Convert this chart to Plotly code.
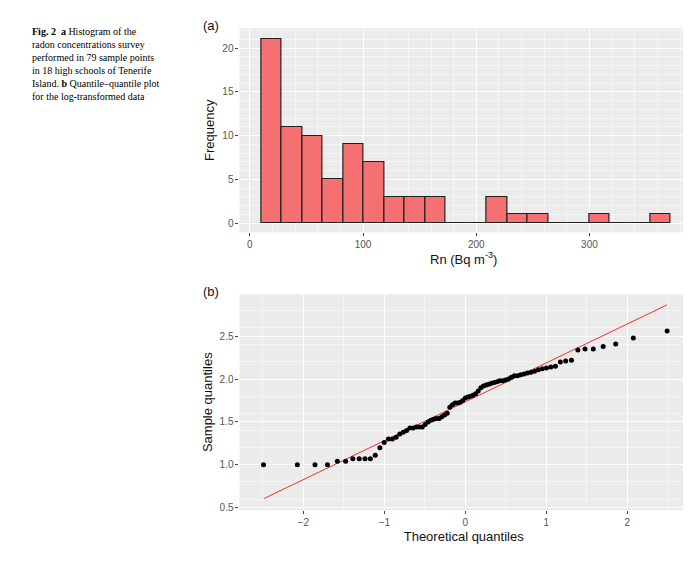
import plotly.graph_objects as go
from statistics import NormalDist

# Histogram data (binned)
bin_start = 10.0
bin_width = 18.1
counts = [21, 11, 10, 5, 9, 7, 3, 3, 3, 0, 0, 3, 1, 1, 0, 0, 1, 0, 0, 1]

# QQ sample quantiles (log10 Rn), sorted
sample_q = [1.0, 1.0, 1.0, 1.0, 1.04, 1.04, 1.07, 1.07, 1.07, 1.07, 1.11, 1.20, 1.26,
            1.30, 1.30, 1.32, 1.36, 1.38, 1.40, 1.43, 1.43, 1.44, 1.44, 1.44, 1.47,
            1.50, 1.52, 1.53, 1.54, 1.54, 1.56, 1.58, 1.60, 1.67, 1.70, 1.72, 1.72,
            1.73, 1.75, 1.78, 1.79, 1.80, 1.81, 1.83, 1.86, 1.90, 1.92, 1.93, 1.94,
            1.95, 1.96, 1.97, 1.98, 1.98, 1.99, 2.0, 2.02, 2.04, 2.04, 2.05, 2.06,
            2.07, 2.08, 2.09, 2.11, 2.12, 2.13, 2.14, 2.15, 2.20, 2.21, 2.22, 2.34,
            2.35, 2.35, 2.38, 2.41, 2.48, 2.56]
line_x = [-2.49, 2.49]
line_y = [0.605, 2.865]

n = len(sample_q)
nd = NormalDist()
theo_q = [nd.inv_cdf((i + 0.5) / n) for i in range(n)]
centers = [bin_start + bin_width * (i + 0.5) for i in range(len(counts))]

fig = go.Figure()
fig.add_trace(go.Bar(x=centers, y=counts, width=bin_width, marker=dict(color="rgba(246,106,106,0.95)",
              line=dict(color="#222", width=1.2)), xaxis="x", yaxis="y", showlegend=False))
fig.add_trace(go.Scatter(x=line_x, y=line_y, mode="lines", line=dict(color="#F2302A", width=1),
              xaxis="x2", yaxis="y2", showlegend=False))
fig.add_trace(go.Scatter(x=theo_q, y=sample_q, mode="markers", marker=dict(color="black", size=5),
              xaxis="x2", yaxis="y2", showlegend=False))

ax = dict(showgrid=True, gridcolor="white", gridwidth=1.2, zeroline=False, ticks="outside",
          ticklen=3, tickcolor="#444", tickfont=dict(size=10, color="#555"),
          minor=dict(showgrid=True, gridcolor="#F5F5F5", gridwidth=0.6))
tfont = dict(size=13, color="#111")
fig.update_layout(
    width=691, height=561, margin=dict(l=0, r=0, t=0, b=0),
    paper_bgcolor="white", plot_bgcolor="#EBEBEB", bargap=0,
    font=dict(family="Liberation Sans, Arial, sans-serif"),
    xaxis=dict(ax, domain=[0.335, 0.984], range=[-9.2, 387], tickvals=[0, 100, 200, 300],
               title=dict(text="Rn (Bq m<sup>-3</sup>)", font=tfont, standoff=4), anchor="y"),
    yaxis=dict(ax, domain=[0.598, 0.964], range=[-1.05, 22.3], tickvals=[0, 5, 10, 15, 20],
               title=dict(text="Frequency", font=tfont, standoff=4), anchor="x"),
    xaxis2=dict(ax, domain=[0.335, 0.984], range=[-2.79, 2.75], tickvals=[-2, -1, 0, 1, 2],
                title=dict(text="Theoretical quantiles", font=tfont, standoff=4), anchor="y2"),
    yaxis2=dict(ax, domain=[0.1, 0.487], range=[0.47, 2.99], tickvals=[0.5, 1.0, 1.5, 2.0, 2.5],
                tickformat=".1f", title=dict(text="Sample quantiles", font=tfont, standoff=4), anchor="x2"),
)
for txt, yp in [("(a)", 1 - 18/561), ("(b)", 1 - 285/561)]:
    fig.add_annotation(x=193/691, y=yp, xref="paper", yref="paper", text=txt, showarrow=False,
                       xanchor="left", yanchor="middle", font=dict(size=13, color="#111"))
fig.add_annotation(x=22/691, y=1 - 16/561, xref="paper", yref="paper", showarrow=False,
                   xanchor="left", yanchor="top", align="left",
                   font=dict(family="Liberation Serif, Times New Roman, serif", size=10, color="black"),
                   text="<b>Fig. 2</b>  <b>a</b> Histogram of the<br>radon concentrations survey<br>"
                        "performed in 79 sample points<br>in 18 high schools of Tenerife<br>"
                        "Island. <b>b</b> Quantile–quantile plot<br>for the log-transformed data")
fig.write_html("out.html")
